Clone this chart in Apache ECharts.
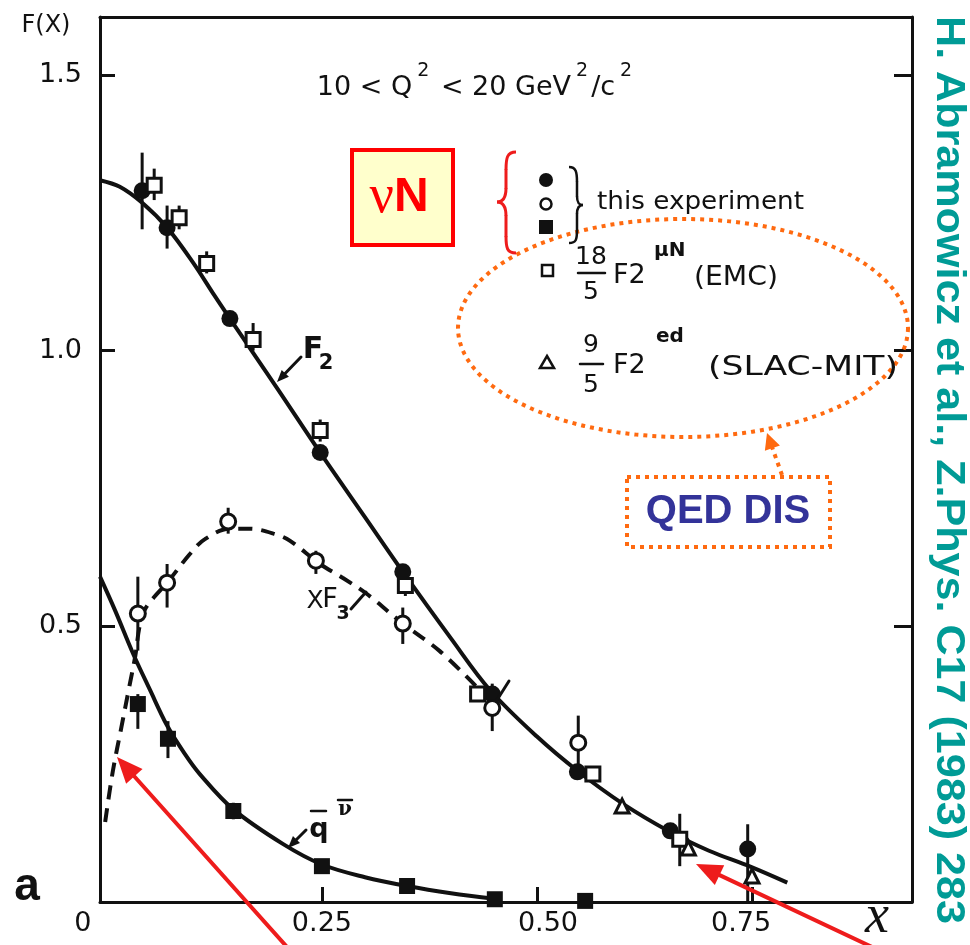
<!DOCTYPE html>
<html><head><meta charset="utf-8">
<script src="https://cdn.jsdelivr.net/npm/echarts@6/dist/echarts.min.js"></script>
<style>html,body{margin:0;padding:0;background:#fff}#c{width:970px;height:945px}</style>
</head><body><div id="c"></div>
<script>
// ---------- data ----------
const xTickValues = [0, 0.25, 0.5, 0.75];
const xTickLabels = ['0', '0.25', '0.50', '0.75'];
const yTickValues = [0.5, 1.0, 1.5];
const yTickLabels = ['0.5', '1.0', '1.5'];

// fitted curves
const f2Curve = [[-0.008,1.309],[0.015,1.297],[0.041,1.268],[0.070,1.223],[0.10,1.16],[0.125,1.10],[0.143,1.058],[0.17,0.996],[0.20,0.927],[0.248,0.815],[0.30,0.698],[0.344,0.599],[0.40,0.478],[0.445,0.385],[0.50,0.300],[0.547,0.238],[0.60,0.178],[0.655,0.127],[0.70,0.093],[0.748,0.064],[0.791,0.035]];
const xf3Curve = [[-0.002,0.145],[0.007,0.238],[0.017,0.318],[0.026,0.39],[0.033,0.446],[0.038,0.50],[0.044,0.53],[0.055,0.553],[0.07,0.579],[0.097,0.632],[0.114,0.658],[0.143,0.677],[0.166,0.677],[0.198,0.666],[0.213,0.655],[0.248,0.613],[0.274,0.588],[0.302,0.559],[0.344,0.505],[0.387,0.455],[0.43,0.39]];
const qbarCurve = [[-0.008,0.59],[0.01,0.527],[0.03,0.452],[0.05,0.385],[0.07,0.32],[0.09,0.27],[0.108,0.232],[0.147,0.168],[0.205,0.105],[0.25,0.068],[0.30,0.045],[0.349,0.029],[0.40,0.016],[0.451,0.006]];

// measured points
const f2Nu = [[0.041,1.29],[0.070,1.223],[0.143,1.058],[0.248,0.815],[0.344,0.599],[0.448,0.377],[0.547,0.236],[0.655,0.129],[0.745,0.096]];
const xf3Nu = [[0.036,0.523],[0.070,0.579],[0.141,0.690],[0.243,0.619],[0.344,0.505],[0.448,0.352],[0.548,0.289]];
const qbarNu = [[0.036,0.359],[0.071,0.296],[0.147,0.165],[0.25,0.065],[0.349,0.029],[0.451,0.005],[0.556,0.002]];
const f2Emc = [[0.055,1.30],[0.084,1.241],[0.116,1.158],[0.170,1.02],[0.248,0.855],[0.347,0.574],[0.431,0.377],[0.565,0.232],[0.666,0.114]];
const f2Slac = [[0.599,0.174],[0.676,0.098],[0.75,0.047]];

// error bars [x, low, high]
const errBars = [
  [0.041,1.22,1.359],[0.070,1.185,1.263],[0.745,0.0,0.141],
  [0.055,1.273,1.33],[0.084,1.22,1.263],[0.116,1.14,1.18],[0.17,1.0,1.05],[0.248,0.835,0.875],[0.347,0.555,0.60],[0.666,0.065,0.16],
  [0.036,0.456,0.59],[0.070,0.534,0.613],[0.141,0.668,0.715],[0.243,0.595,0.637],[0.344,0.468,0.534],[0.448,0.31,0.396],[0.548,0.243,0.338],
  [0.036,0.314,0.377],[0.071,0.261,0.328],[0.147,0.15,0.18]
];

// ---------- helpers ----------
const mctx = document.createElement('canvas').getContext('2d');
function textW(t, font){ mctx.font = font; return mctx.measureText(t).width; }
function T(x, y, text, font, fill, align, opts){
  opts = opts || {};
  return {type:'text', x:x, y:y, rotation: opts.rot || 0, scaleX: opts.sx || 1, z: 100,
    style:{text:text, x:0, y:0, font:font, fill:fill || '#111', align: align || 'center', verticalAlign:'middle',
      textAlign: align || 'center', textVerticalAlign:'middle'}};
}
function fitSx(text, font, w){ return w / textW(text, font); }
function L(x1,y1,x2,y2,stroke,w,dash){
  return {type:'line', z:100, shape:{x1:x1,y1:y1,x2:x2,y2:y2}, style:{stroke:stroke, lineWidth:w, lineDash: dash || null, lineCap: dash ? 'butt':'round'}};
}
function B(x1,y1,c1x,c1y,c2x,c2y,x2,y2,stroke,w){
  return {type:'bezierCurve', z:100, shape:{x1:x1,y1:y1,cpx1:c1x,cpy1:c1y,cpx2:c2x,cpy2:c2y,x2:x2,y2:y2}, style:{stroke:stroke, lineWidth:w, fill:null}};
}
function head(tip, from, len, half, fill){
  const dx = tip[0]-from[0], dy = tip[1]-from[1], d = Math.hypot(dx,dy), ux = dx/d, uy = dy/d;
  const bx = tip[0]-ux*len, by = tip[1]-uy*len;
  return {type:'polygon', z:101, shape:{points:[[tip[0],tip[1]],[bx-uy*half, by+ux*half],[bx+uy*half, by-ux*half]]}, style:{fill:fill}};
}
function arrow(from, tip, color, w, len, half, dash){
  const dx = tip[0]-from[0], dy = tip[1]-from[1], d = Math.hypot(dx,dy);
  const end = [tip[0]-dx/d*len*0.8, tip[1]-dy/d*len*0.8];
  return [L(from[0],from[1],end[0],end[1],color,w,dash), head(tip, from, len, half, color)];
}
function ellipsePts(cx, cy, rx, ry, n){
  const p = [];
  for (let i=0;i<n;i++){ const a = i/n*Math.PI*2; p.push([cx+rx*Math.cos(a), cy+ry*Math.sin(a)]); }
  return p;
}

const FONT = '"DejaVu Sans", sans-serif';
const ORANGE = '#ff6a10';
const RED = '#ee1c1c';

const graphics = [];
graphics.push(T(46, 26, 'F(X)', '24px '+FONT, '#111'));
graphics.push(T(27, 887, 'a', 'bold 46px "Liberation Sans", Arial, sans-serif', '#111'));
graphics.push(T(877, 918, 'x', 'italic 54px "Liberation Serif", "Times New Roman", serif', '#111'));
// Q^2 text
graphics.push({type:'text', x:476, y:80, z:100, style:{
  text:'{n|10 < Q}{s|2}{n| < 20 GeV}{s|2}{n|/c}{s|2}', x:0, y:0, align:'center', verticalAlign:'middle',
  textAlign:'center', textVerticalAlign:'middle',
  rich:{n:{fontSize:27, fontFamily:'DejaVu Sans', fill:'#111', lineHeight:42, verticalAlign:'bottom'},
        s:{fontSize:19, fontFamily:'DejaVu Sans', fill:'#111', lineHeight:42, verticalAlign:'top', padding:[3,3,0,5]}}}});
// nu N box
graphics.push({type:'rect', z:100, shape:{x:352, y:150, width:101, height:95}, style:{fill:'#ffffcc', stroke:'#ff0000', lineWidth:4}});
graphics.push({type:'text', x:399, y:198, z:101, style:{text:'{a|ν}{b|N}', x:0, y:0, align:'center', verticalAlign:'middle',
  textAlign:'center', textVerticalAlign:'middle',
  rich:{a:{fontSize:54, fontFamily:'"Liberation Serif", serif', fill:'#ff0000'},
        b:{fontSize:48, fontFamily:'"Liberation Sans", Arial, sans-serif', fontWeight:'bold', fill:'#ff0000'}}}});
// red brace
graphics.push(B(516,152, 507,152, 506,158, 506,170, RED, 3));
graphics.push(L(506,170, 506,188, RED, 3));
graphics.push(B(506,188, 506,198, 503,202, 497,202, RED, 3));
graphics.push(B(497,202, 503,202, 506,206, 506,216, RED, 3));
graphics.push(L(506,216, 506,236, RED, 3));
graphics.push(B(506,236, 506,248, 507,253, 516,253, RED, 3));
// black brace
graphics.push(B(569,167, 576,167, 577,172, 577,182, '#111', 2.5));
graphics.push(L(577,182, 577,196, '#111', 2.5));
graphics.push(B(577,196, 577,203, 579,205, 583,205, '#111', 2.5));
graphics.push(B(583,205, 579,205, 577,208, 577,214, '#111', 2.5));
graphics.push(L(577,214, 577,230, '#111', 2.5));
graphics.push(B(577,230, 577,240, 576,243, 569,243, '#111', 2.5));
// legend markers
graphics.push({type:'circle', z:100, shape:{cx:546, cy:180, r:7}, style:{fill:'#111'}});
graphics.push({type:'circle', z:100, shape:{cx:546, cy:204, r:5.5}, style:{fill:'#fff', stroke:'#111', lineWidth:2.5}});
graphics.push({type:'rect', z:100, shape:{x:539, y:220, width:14, height:14}, style:{fill:'#111'}});
graphics.push({type:'rect', z:100, shape:{x:542, y:265, width:11, height:11}, style:{fill:'#fff', stroke:'#111', lineWidth:2.5}});
graphics.push({type:'polygon', z:100, shape:{points:[[547,356],[554,368],[540,368]]}, style:{fill:'#fff', stroke:'#111', lineWidth:2.5}});
const thisFont = '24px '+FONT;
graphics.push(T(597, 203, 'this experiment', thisFont, '#111', 'left', {sx: fitSx('this experiment', thisFont, 207)}));
// EMC line
graphics.push(T(591, 257, '18', '25px '+FONT, '#111'));
graphics.push(L(578, 273, 605, 273, '#111', 2.5));
graphics.push(T(591, 292, '5', '25px '+FONT, '#111'));
graphics.push(T(613, 276, 'F2', '27px '+FONT, '#111', 'left'));
graphics.push(T(654, 251, 'μN', 'bold 20px '+FONT, '#111', 'left'));
const emcFont = '26px '+FONT;
graphics.push(T(694, 278, '(EMC)', emcFont, '#111', 'left', {sx: fitSx('(EMC)', emcFont, 84)}));
// SLAC line
graphics.push(T(591, 345, '9', '25px '+FONT, '#111'));
graphics.push(L(580, 364, 603, 364, '#111', 2.5));
graphics.push(T(591, 385, '5', '25px '+FONT, '#111'));
graphics.push(T(613, 366, 'F2', '27px '+FONT, '#111', 'left'));
graphics.push(T(656, 337, 'ed', 'bold 20px '+FONT, '#111', 'left'));
const slacFont = '26px '+FONT;
graphics.push(T(708, 368, '(SLAC-MIT)', slacFont, '#111', 'left', {sx: fitSx('(SLAC-MIT)', slacFont, 190)}));
// orange dotted ellipse
graphics.push({type:'polygon', z:99, shape:{points: ellipsePts(683, 328, 225, 109, 180)}, style:{fill:null, stroke:ORANGE, lineWidth:4, lineDash:[4,5]}});
// QED DIS box
graphics.push({type:'rect', z:100, shape:{x:627, y:477, width:203, height:70}, style:{fill:'#fff', stroke:ORANGE, lineWidth:4, lineDash:[4,5]}});
graphics.push(T(728, 512, 'QED DIS', 'bold 40px "Liberation Sans", Arial, sans-serif', '#333399'));
graphics.push(...arrow([782, 475], [767, 433], ORANGE, 4, 16, 8, [4,5]));
// red arrows
graphics.push(...arrow([287, 947], [117, 757], RED, 4, 26, 11));
graphics.push(...arrow([872, 947], [696, 864], RED, 4, 26, 11));
// curve labels
graphics.push(T(313, 350, 'F', 'bold 30px '+FONT, '#111'));
graphics.push(T(326, 364, '2', 'bold 21px '+FONT, '#111'));
graphics.push(...arrow([301, 357], [277, 382], '#111', 3, 12, 5));
graphics.push(T(315, 601, 'X', '25px '+FONT, '#111'));
graphics.push(T(330, 600, 'F', '27px '+FONT, '#111'));
graphics.push(T(343, 614, '3', 'bold 19px '+FONT, '#111'));
graphics.push(L(351, 609, 366, 592, '#111', 3));
graphics.push(L(497, 700, 509, 681, '#111', 3));
graphics.push(T(319, 830, 'q', 'bold 27px '+FONT, '#111'));
graphics.push(L(311, 811, 326, 811, '#111', 2.5));
graphics.push(T(345, 810, 'ν', 'bold 20px "DejaVu Serif", serif', '#111'));
graphics.push(L(338, 800, 352, 800, '#111', 2.5));
graphics.push(...arrow([306, 830], [288, 848], '#111', 3, 12, 5));
// right vertical citation
const refText = 'H. Abramowicz et al., Z.Phys. C17 (1983) 283';
const refFont = 'bold 40px "Liberation Sans Narrow", "Liberation Sans", Arial, sans-serif';
graphics.push(T(948, 470, refText, refFont, '#009b96', 'center', {rot: -Math.PI/2, sx: fitSx(refText, refFont, 908)}));

// ---------- chart ----------
const chart = echarts.init(document.getElementById('c'), null, {renderer:'canvas'});
const axisLineStyle = {color:'#111', width:3};
const option = {
  animation:false,
  backgroundColor:'#fff',
  grid:{left:100, right:58, top:17, bottom:43, containLabel:false},
  xAxis:[
    {type:'value', position:'bottom', min:-0.008, max:0.936,
     axisLine:{show:true, onZero:false, lineStyle:axisLineStyle},
     axisTick:{show:true, inside:true, length:15, lineStyle:{color:'#111', width:3}, customValues:xTickValues.slice(1)},
     axisLabel:{show:true, margin:8, customValues:xTickValues, fontFamily:'DejaVu Sans', fontSize:27, color:'#111',
       formatter:function(v){ const i = xTickValues.findIndex(t=>Math.abs(t-v)<1e-9); const s = i>=0 ? xTickLabels[i] : ''; return i===0 ? '{z|'+s+'}' : (i===2 ? '{r|'+s+'}' : (i===3 ? '{l|'+s+'}' : s)); },
       rich:{z:{fontFamily:'DejaVu Sans', fontSize:27, color:'#111', padding:[0,48,0,0]},
             r:{fontFamily:'DejaVu Sans', fontSize:27, color:'#111', padding:[0,0,0,22]},
             l:{fontFamily:'DejaVu Sans', fontSize:27, color:'#111', padding:[0,22,0,0]}}},
     splitLine:{show:false}},
    {type:'value', position:'top', min:-0.008, max:0.936,
     axisLine:{show:true, onZero:false, lineStyle:axisLineStyle}, axisTick:{show:false}, axisLabel:{show:false}, splitLine:{show:false}}
  ],
  yAxis:[
    {type:'value', position:'left', min:0, max:1.605,
     axisLine:{show:true, onZero:false, lineStyle:axisLineStyle},
     axisTick:{show:true, inside:true, length:15, lineStyle:{color:'#111', width:3}, customValues:yTickValues},
     axisLabel:{show:true, margin:18, customValues:yTickValues, fontFamily:'DejaVu Sans', fontSize:27, color:'#111',
       formatter:function(v){ const i = yTickValues.findIndex(t=>Math.abs(t-v)<1e-9); return i>=0 ? yTickLabels[i] : ''; }},
     splitLine:{show:false}},
    {type:'value', position:'right', min:0, max:1.605,
     axisLine:{show:true, onZero:false, lineStyle:axisLineStyle},
     axisTick:{show:true, inside:true, length:18, lineStyle:{color:'#111', width:3}, customValues:yTickValues},
     axisLabel:{show:false}, splitLine:{show:false}}
  ],
  series:[
    {type:'line', data:f2Curve, smooth:0.35, showSymbol:false, symbol:'none', lineStyle:{color:'#111', width:4}, z:2, silent:true},
    {type:'line', data:xf3Curve, smooth:0.35, showSymbol:false, symbol:'none', lineStyle:{color:'#111', width:4, type:[14,9]}, z:2, silent:true},
    {type:'line', data:qbarCurve, smooth:0.35, showSymbol:false, symbol:'none', lineStyle:{color:'#111', width:4}, z:2, silent:true},
    {type:'custom', data:errBars, z:3, silent:true, encode:{x:0, y:[1,2]},
     renderItem:function(params, api){
       const x = api.value(0), p1 = api.coord([x, api.value(1)]), p2 = api.coord([x, api.value(2)]);
       return {type:'line', shape:{x1:p1[0], y1:p1[1], x2:p2[0], y2:p2[1]}, style:{stroke:'#111', lineWidth:3}};
     }},
    {type:'scatter', data:f2Nu, symbol:'circle', symbolSize:17, itemStyle:{color:'#111', opacity:1}, z:4, silent:true},
    {type:'scatter', data:f2Emc, symbol:'rect', symbolSize:14, itemStyle:{color:'#fff', borderColor:'#111', borderWidth:3, opacity:1}, z:5, silent:true},
    {type:'scatter', data:xf3Nu, symbol:'circle', symbolSize:15, itemStyle:{color:'#fff', borderColor:'#111', borderWidth:3, opacity:1}, z:5, silent:true},
    {type:'scatter', data:qbarNu, symbol:'rect', symbolSize:16, itemStyle:{color:'#111', opacity:1}, z:4, silent:true},
    {type:'scatter', data:f2Slac, symbol:'triangle', symbolSize:14, itemStyle:{color:'#fff', borderColor:'#111', borderWidth:3, opacity:1}, z:5, silent:true}
  ],
  graphic: graphics
};
chart.setOption(option);
</script>
</body></html>
